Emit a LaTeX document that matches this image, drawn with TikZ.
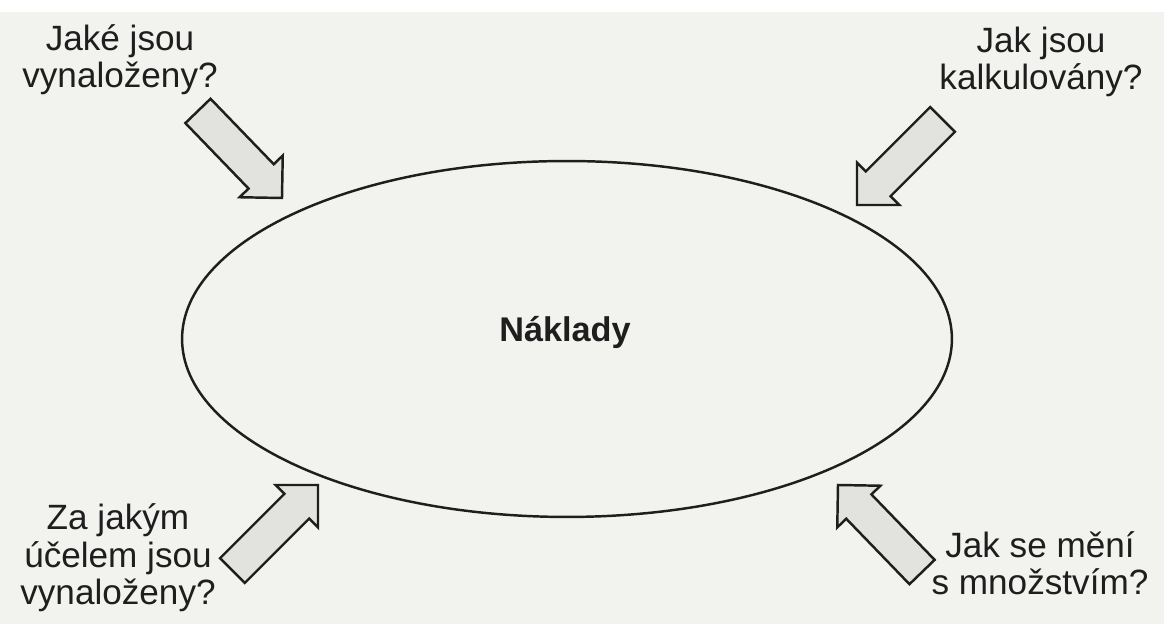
\documentclass[tikz,border=0pt]{standalone}
\usepackage{fontspec}
\setmainfont{Liberation Sans}
\usetikzlibrary{shapes.geometric}
\definecolor{bgcol}{RGB}{242,242,239}
\definecolor{arrfill}{RGB}{226,226,223}
\definecolor{inkcol}{RGB}{30,30,30}
\tikzset{
  question/.style={align=center, anchor=base, inner sep=0pt, text=inkcol,
    font=\fontsize{20}{21.6}\selectfont},
  bigarrowstyle/.style={draw=inkcol, fill=arrfill, line width=1.4pt, line join=miter},
  costshape/.style={draw=inkcol, ellipse, line width=1.4pt, inner sep=0pt,
    minimum width=15.4cm, minimum height=7.12cm},
}
\newcommand{\qarrow}[2]{%
  \draw[bigarrowstyle, shift={(#1)}, rotate=#2]
    (0,0) -- (-30,30) -- (-30,17.5) -- (-121,17.5) -- (-121,-17.5)
    -- (-30,-17.5) -- (-30,-30) -- cycle;}
\begin{document}
\begin{tikzpicture}[x=0.02cm, y=0.02cm]
\fill[bgcol] (0,0) rectangle (1164,624);
\fill[white] (0,612) rectangle (1164,624);
\useasboundingbox (0,0) rectangle (1164,624);
% central ellipse
\node[costshape] (cost) at (567,285) {};
\node[anchor=base, inner sep=0pt, text=inkcol, font=\fontsize{19.5}{22}\selectfont\bfseries] (costtext) at (565,282) {Náklady};
% questions (anchor base = baseline of the last line)
\node[question] (q1) at (120,536) {Jaké jsou\\vynaloženy?};
\node[question] (q2) at (1041,534) {Jak jsou\\kalkulovány?};
\node[question] (q3) at (118,19) {Za jakým\\účelem jsou\\vynaloženy?};
\node[question] (q4) at (1040,29) {Jak se mění\\s množstvím?};
% block arrows pointing at the ellipse
\qarrow{282,426}{-46}
\qarrow{857,419}{-135}
\qarrow{318,139}{45}
\qarrow{838,139}{134}
\end{tikzpicture}
\end{document}
